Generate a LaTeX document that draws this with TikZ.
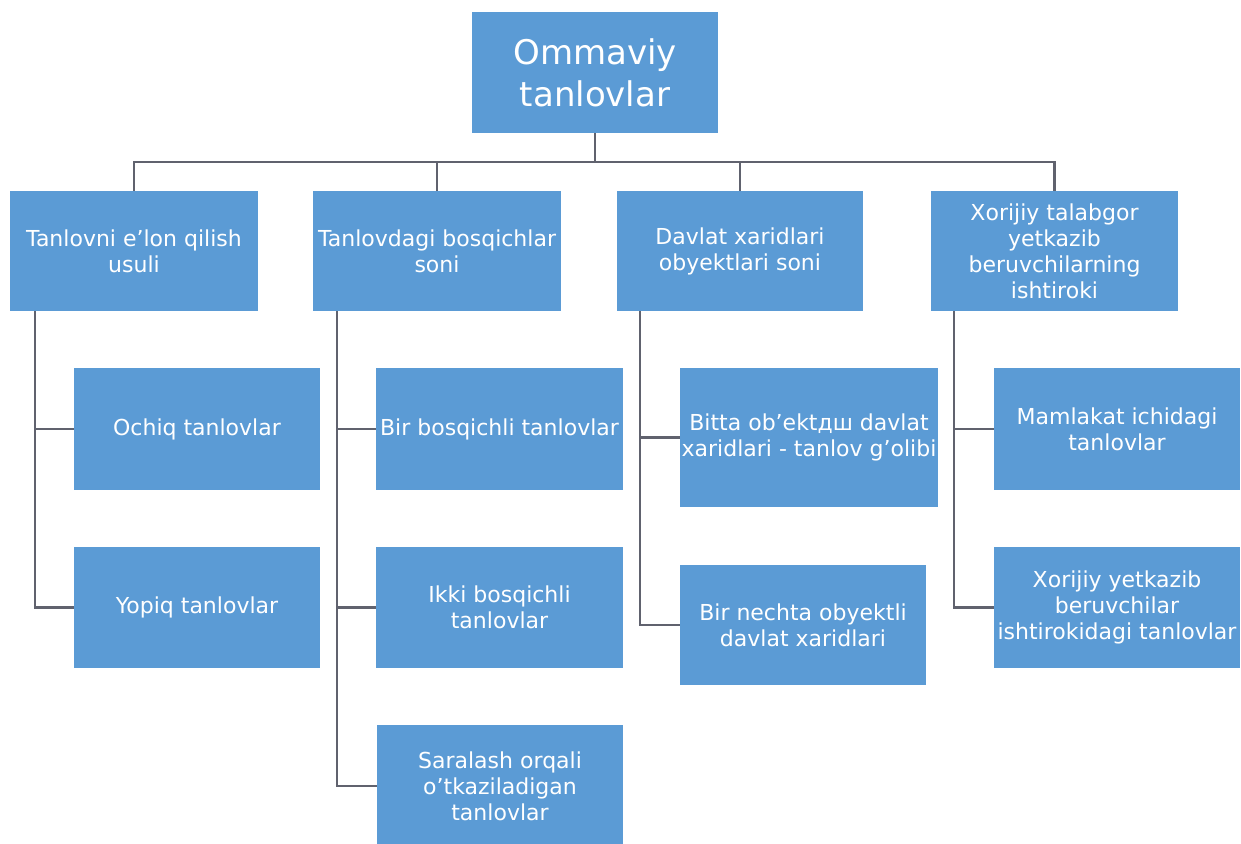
\documentclass[tikz,border=0pt]{standalone}
\usepackage{fontspec}
\setmainfont{DejaVu Sans}
\definecolor{boxblue}{HTML}{5B9BD5}
\definecolor{linegrey}{HTML}{60626E}
\begin{document}
\begin{tikzpicture}[x=1pt,y=-1pt,
  box/.style={fill=boxblue,draw=none,inner sep=0pt,align=center,text=white,
    font=\fontsize{22}{26}\selectfont},
  conn/.style={draw=linegrey,line width=2.5pt}]
\useasboundingbox[fill=white] (0,0) rectangle (1241,843);
% top
\node[box,minimum width=246,minimum height=121,font=\fontsize{34}{42}\selectfont] (top) at (595,72.5) {Ommaviy\\tanlovlar};
% level 1
\node[box,minimum width=248,minimum height=120] (b1) at (134,251) {Tanlovni e'lon qilish\\usuli};
\node[box,minimum width=248,minimum height=120] (b2) at (437,251) {Tanlovdagi bosqichlar\\soni};
\node[box,minimum width=246,minimum height=120] (b3) at (740,251) {Davlat xaridlari\\obyektlari soni};
\node[box,minimum width=247,minimum height=120] (b4) at (1054.5,251) {Xorijiy talabgor\\yetkazib\\beruvchilarning\\ishtiroki};
% children
\node[box,minimum width=246,minimum height=122] (c11) at (197,429) {Ochiq tanlovlar};
\node[box,minimum width=246,minimum height=121] (c12) at (197,607.5) {Yopiq tanlovlar};
\node[box,minimum width=247,minimum height=122] (c21) at (499.5,429) {Bir bosqichli tanlovlar};
\node[box,minimum width=247,minimum height=121] (c22) at (499.5,607.5) {Ikki bosqichli\\tanlovlar};
\node[box,minimum width=246,minimum height=122] (c23) at (500,786) {Saralash orqali\\o'tkaziladigan\\tanlovlar};
\node[box,minimum width=258,minimum height=139] (c31) at (809,437.5) {Bitta ob'ektдш davlat\\xaridlari - tanlov g'olibi};
\node[box,minimum width=246,minimum height=120] (c32) at (803,625) {Bir nechta obyektli\\davlat xaridlari};
\node[box,minimum width=246,minimum height=122] (c41) at (1117,429) {Mamlakat ichidagi\\tanlovlar};
\node[box,minimum width=246,minimum height=121] (c42) at (1117,607.5) {Xorijiy yetkazib\\beruvchilar\\ishtirokidagi tanlovlar};
% bus
\coordinate (bus) at (595,162);
\draw[conn] (top.south) -- (bus);
\draw[conn] (b1.north) |- (bus) -| (b4.north);
\draw[conn] (b2.north) -- (b2.north |- bus);
\draw[conn] (b3.north) -- (b3.north |- bus);
% trunks
\coordinate (t1) at (35,311);
\coordinate (t2) at (337,311);
\coordinate (t3) at (640,311);
\coordinate (t4) at (954,311);
\draw[conn] (t1) |- (c12.west);
\draw[conn] (c11.west -| t1) -- (c11.west);
\draw[conn] (t2) |- (c23.west);
\draw[conn] (c21.west -| t2) -- (c21.west);
\draw[conn] (c22.west -| t2) -- (c22.west);
\draw[conn] (t3) |- (c32.west);
\draw[conn] (c31.west -| t3) -- (c31.west);
\draw[conn] (t4) |- (c42.west);
\draw[conn] (c41.west -| t4) -- (c41.west);
\end{tikzpicture}
\end{document}
